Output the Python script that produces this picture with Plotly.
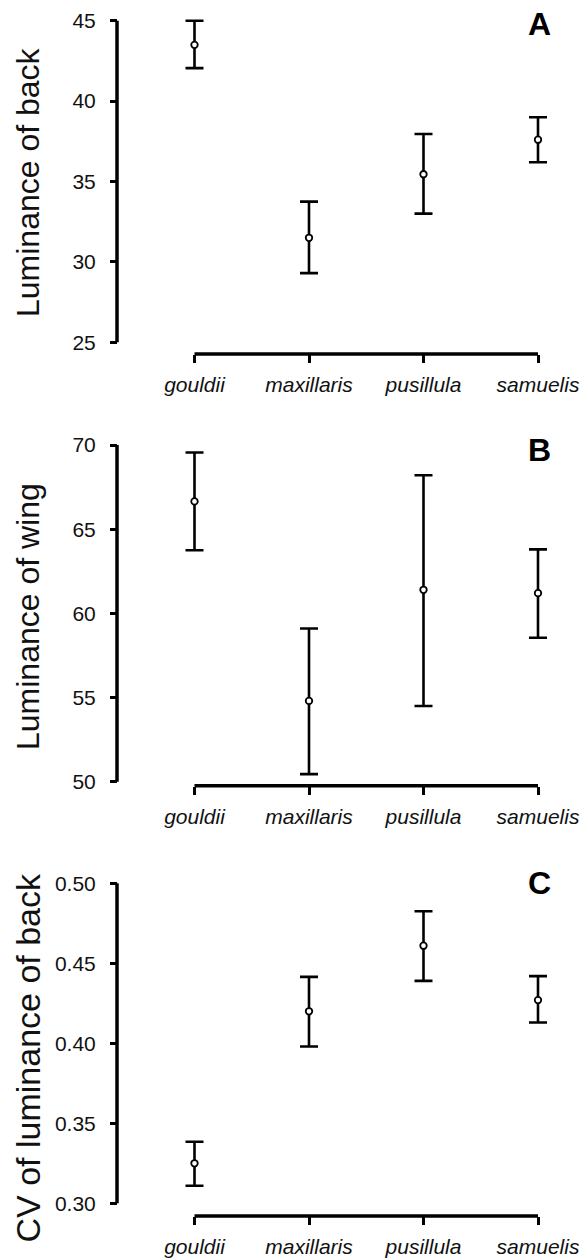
import plotly.graph_objects as go

# ---------------- data ----------------
species = ["gouldii", "maxillaris", "pusillula", "samuelis"]

back_mean = [43.5, 31.5, 35.45, 37.6]
back_upper = [45.0, 33.75, 37.95, 39.0]
back_lower = [42.05, 29.3, 33.0, 36.2]

wing_mean = [66.65, 54.8, 61.4, 61.2]
wing_upper = [69.55, 59.1, 68.2, 63.8]
wing_lower = [63.75, 50.45, 54.5, 58.55]

cv_mean = [0.325, 0.420, 0.461, 0.427]
cv_upper = [0.3385, 0.4415, 0.4825, 0.442]
cv_lower = [0.311, 0.398, 0.439, 0.413]

back_ticks = [25, 30, 35, 40, 45]
wing_ticks = [50, 55, 60, 65, 70]
cv_ticks = [0.30, 0.35, 0.40, 0.45, 0.50]

titles = ["Luminance of back", "Luminance of wing", "CV of luminance of back"]
letters = ["A", "B", "C"]

# ---------------- layout helpers ----------------
W, H = 584, 1260
FONT = "Liberation Sans, Arial, Helvetica, sans-serif"


def fx(px):
    return px / W


def fy(py):
    return 1 - py / H


panels = [
    dict(mean=back_mean, up=back_upper, lo=back_lower, ticks=back_ticks, fmt="d",
         ytop=20.7, ybot=342.3, xline=354, tcy=182.5, tsize=32, lety=23.5),
    dict(mean=wing_mean, up=wing_upper, lo=wing_lower, ticks=wing_ticks, fmt="d",
         ytop=445.0, ybot=781.7, xline=785.7, tcy=616.5, tsize=32, lety=450),
    dict(mean=cv_mean, up=cv_upper, lo=cv_lower, ticks=cv_ticks, fmt=".2f",
         ytop=883.3, ybot=1203.3, xline=1216, tcy=1058, tsize=34, lety=883),
]

fig = go.Figure()
layout = dict(
    width=W, height=H, autosize=False,
    margin=dict(l=0, r=0, t=0, b=0, pad=0, autoexpand=False),
    paper_bgcolor="white", plot_bgcolor="rgba(0,0,0,0)",
    showlegend=False,
    font=dict(family=FONT, color="black"),
)
annotations = []
shapes = []

X_AXIS_LEFT, X_AXIS_RIGHT = 194.5, 538.0   # pixel of first / last category
Y_AXIS_X = 117.0
XPAD = 0.3      # category units of padding on each side
YPADF = 0.04    # fraction of tick span padded on each side
AXW = 3.5

ncat = len(species)
cat_px = (X_AXIS_RIGHT - X_AXIS_LEFT) / (ncat - 1)
xdom = [fx(X_AXIS_LEFT - XPAD * cat_px), fx(X_AXIS_RIGHT + XPAD * cat_px)]

for i, p in enumerate(panels):
    n = i + 1
    xa = "x" if n == 1 else f"x{n}"
    ya = "y" if n == 1 else f"y{n}"
    plus = [u - m for u, m in zip(p["up"], p["mean"])]
    minus = [m - l for m, l in zip(p["mean"], p["lo"])]
    fig.add_trace(go.Scatter(
        x=species, y=p["mean"], xaxis=xa, yaxis=ya,
        mode="markers", cliponaxis=False,
        marker=dict(symbol="circle", size=6.5, color="white",
                    line=dict(color="black", width=1.8)),
        error_y=dict(type="data", symmetric=False, array=plus, arrayminus=minus,
                     color="black", thickness=2.6, width=9),
        hoverinfo="skip",
    ))
    ymin, ymax = p["ticks"][0], p["ticks"][-1]
    span = ymax - ymin
    ypx = (p["ybot"] - p["ytop"]) / span
    pad = YPADF * span
    ydom = [fy(p["ybot"] + pad * ypx), fy(p["ytop"] - pad * ypx)]

    ykey = "yaxis" if n == 1 else f"yaxis{n}"
    xkey = "xaxis" if n == 1 else f"xaxis{n}"
    layout[xkey] = dict(
        type="category", categoryorder="array", categoryarray=species,
        range=[-XPAD, ncat - 1 + XPAD], domain=xdom,
        anchor="free", position=fy(p["xline"]), automargin=False,
        showline=False,
        ticks="outside", ticklen=8, tickwidth=3, tickcolor="black",
        tickfont=dict(family=FONT, size=21, color="#111", style="italic"),
        ticklabelstandoff=4,
        showgrid=False, zeroline=False, fixedrange=True,
    )
    layout[ykey] = dict(
        range=[ymin - pad, ymax + pad], domain=ydom,
        anchor="free", position=fx(Y_AXIS_X), automargin=False,
        tickmode="array", tickvals=p["ticks"], tickformat=p["fmt"],
        showline=False,
        ticks="outside", ticklen=7, tickwidth=3, tickcolor="black",
        tickfont=dict(family=FONT, size=21, color="#111"),
        ticklabelstandoff=10,
        showgrid=False, zeroline=False, fixedrange=True,
    )
    # axis lines (R-style: span first to last tick)
    shapes.append(dict(type="line", xref=xa, yref="paper",
                       x0=0, x1=ncat - 1, y0=fy(p["xline"]), y1=fy(p["xline"]),
                       line=dict(color="black", width=AXW), layer="above"))
    shapes.append(dict(type="line", xref="paper", yref=ya,
                       x0=fx(Y_AXIS_X), x1=fx(Y_AXIS_X), y0=ymin, y1=ymax,
                       line=dict(color="black", width=AXW), layer="above"))
    annotations.append(dict(
        text=titles[i], xref="paper", yref="paper",
        x=fx(27.5), y=fy(p["tcy"]), xanchor="center", yanchor="middle",
        textangle=-90, showarrow=False,
        font=dict(family=FONT, size=p["tsize"], color="#111"),
    ))
    annotations.append(dict(
        text=f"<b>{letters[i]}</b>", xref="paper", yref="paper",
        x=fx(539), y=fy(p["lety"]), xanchor="center", yanchor="middle",
        showarrow=False,
        font=dict(family=FONT, size=32, color="black"),
    ))

layout["annotations"] = annotations
layout["shapes"] = shapes
fig.update_layout(**layout)
fig.write_html(
    "out.html",
    config={"displayModeBar": False, "responsive": False},
    post_script="document.body.style.margin='0';document.body.style.padding='0';",
)
